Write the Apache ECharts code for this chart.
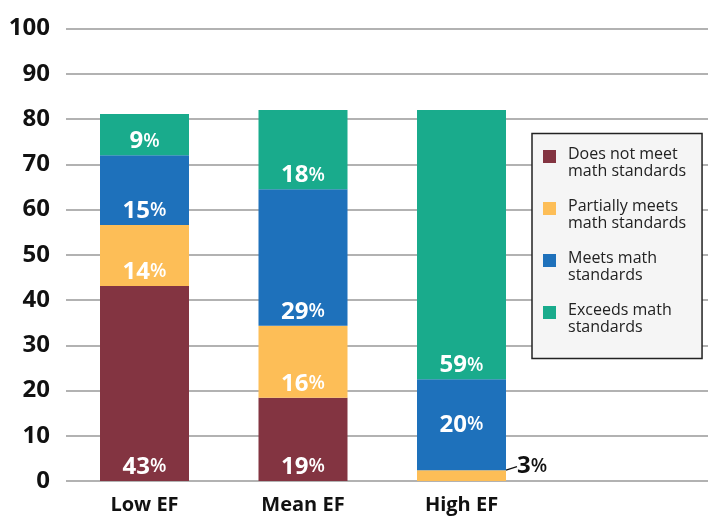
<!DOCTYPE html>
<html>
<head>
<meta charset="utf-8">
<script src="https://cdn.jsdelivr.net/npm/echarts@6/dist/echarts.min.js"></script>
<style>
html,body{margin:0;padding:0;background:#fff;}
#chart{width:708px;height:520px;}
</style>
</head>
<body>
<div id="chart"></div>
<script>
const categories = ['Low EF', 'Mean EF', 'High EF', ''];
const seriesNames = ['Does not meet\nmath standards', 'Partially meets\nmath standards', 'Meets math\nstandards', 'Exceeds math\nstandards'];
const doesNotMeet = [43.1, 18.4, 0];
const partiallyMeets = [13.5, 15.9, 2.4];
const meets = [15.4, 30.2, 20.1];
const exceeds = [9.1, 17.5, 59.5];
const doesNotMeetLabels = ['43', '19', ''];
const partiallyMeetsLabels = ['14', '16', '3'];
const meetsLabels = ['15', '29', '20'];
const exceedsLabels = ['9', '18', '59'];
const yTicks = [0, 10, 20, 30, 40, 50, 60, 70, 80, 90, 100];
const colors = ['#833441', '#FDBE57', '#1E71BB', '#19AB8C'];

const FONT = '"Open Sans", sans-serif';
const richWhite = {
  n: {fontSize: 24, fontWeight: 'bold', color: '#fff', fontFamily: FONT},
  p: {fontSize: 19, fontWeight: 600, color: '#fff', fontFamily: FONT}
};
const richBlack = {
  n: {fontSize: 24, fontWeight: 'bold', color: '#111', fontFamily: FONT},
  p: {fontSize: 19, fontWeight: 600, color: '#111', fontFamily: FONT}
};

function makeSeries(idx, values, labels) {
  return {
    name: seriesNames[idx],
    type: 'bar',
    stack: 'total',
    xAxisIndex: 1,
    yAxisIndex: 1,
    barWidth: 89,
    itemStyle: {color: colors[idx]},
    emphasis: {disabled: true},
    label: {
      show: true,
      position: 'insideBottom',
      distance: 2,
      formatter: p => labels[p.dataIndex] ? '{n|' + labels[p.dataIndex] + '}{p|%}' : '',
      rich: richWhite
    },
    data: values.map(v => v)
  };
}

const s0 = makeSeries(0, doesNotMeet, doesNotMeetLabels);
const s1 = makeSeries(1, partiallyMeets, partiallyMeetsLabels);
const s2 = makeSeries(2, meets, meetsLabels);
const s3 = makeSeries(3, exceeds, exceedsLabels);
// small High EF slice: label outside with leader line
s1.data[2] = {
  value: partiallyMeets[2],
  label: {position: 'right', distance: 11, rich: richBlack},
  labelLine: {show: true, lineStyle: {color: '#111', width: 1.2}}
};
s1.labelLayout = function (p) {
  if (p.dataIndex === 2) return {dy: -9};
  return {};
};
s2.data[2] = {value: meets[2], label: {position: 'inside'}};

const chart = echarts.init(document.getElementById('chart'), null, {renderer: 'canvas'});
chart.setOption({
  animation: false,
  backgroundColor: '#fff',
  grid: [
    {left: 66, right: 0, top: 28.5, bottom: 39},
    {left: 65.25, width: 634, top: 28.5, bottom: 39}
  ],
  xAxis: [
    {type: 'value', gridIndex: 0, show: false, min: 0, max: 1},
    {
      type: 'category', gridIndex: 1, data: categories,
      axisLine: {show: false}, axisTick: {show: false},
      axisLabel: {color: '#111', fontSize: 20, fontWeight: 'bold', fontFamily: FONT, margin: 14}
    }
  ],
  yAxis: [
    {
      type: 'value', gridIndex: 0, min: yTicks[0], max: yTicks[yTicks.length - 1], interval: 10,
      axisLine: {show: false}, axisTick: {show: false},
      axisLabel: {color: '#111', fontSize: 24, fontWeight: 'bold', fontFamily: FONT, margin: 16},
      splitLine: {show: true, lineStyle: {color: '#999', width: 1.5}}
    },
    {type: 'value', gridIndex: 1, min: 0, max: 100, show: false, splitLine: {show: false}}
  ],
  legend: {
    orient: 'vertical',
    left: 532,
    top: 133.5,
    padding: [0, 16, 23, 11],
    itemWidth: 13,
    itemHeight: 13,
    itemGap: 6,
    icon: 'rect',
    backgroundColor: '#f5f5f5',
    borderColor: '#222',
    borderWidth: 1.5,
    selectedMode: false,
    formatter: name => '{s| }\n' + name,
    textStyle: {
      color: '#222', fontSize: 16, fontFamily: FONT, lineHeight: 17,
      padding: [0, 0, 0, 7],
      rich: {s: {fontSize: 8, lineHeight: 12}}
    },
    data: seriesNames
  },
  series: [s0, s1, s2, s3]
});
</script>
</body>
</html>
